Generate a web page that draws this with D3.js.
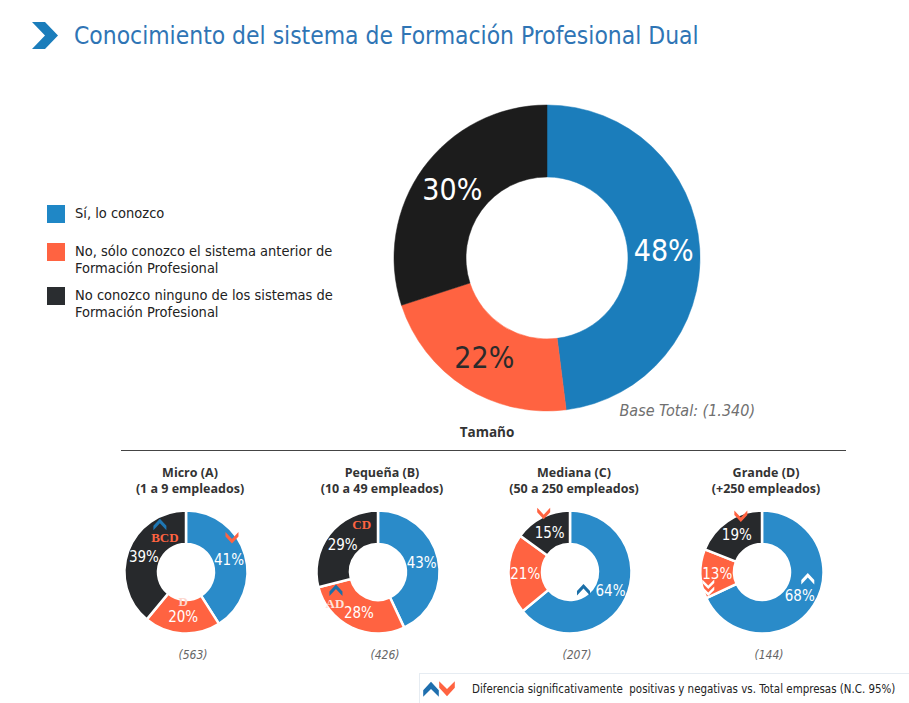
<!DOCTYPE html>
<html><head><meta charset="utf-8">
<script src="https://cdn.jsdelivr.net/npm/d3@7/dist/d3.min.js"></script>
<style>
html,body{margin:0;padding:0;background:#fff;}
svg{display:block;}
</style></head>
<body>
<svg id="chart" width="909" height="703"></svg>
<script>
// ---------- DATA ----------
const title = "Conocimiento del sistema de Formación Profesional Dual";
const segmentNames = [
  ["Sí, lo conozco"],
  ["No, sólo conozco el sistema anterior de", "Formación Profesional"],
  ["No conozco ninguno de los sistemas de", "Formación Profesional"]
];
const totalValues = [48, 22, 30];
const totalBase = "Base Total: (1.340)";
const groupTitle = "Tamaño";
const groupNames = ["Micro (A)", "Pequeña (B)", "Mediana (C)", "Grande (D)"];
const groupRanges = ["(1 a 9 empleados)", "(10 a 49 empleados)", "(50 a 250 empleados)", "(+250 empleados)"];
const siValues = [41, 43, 64, 68];
const anteriorValues = [20, 28, 21, 13];
const ningunoValues = [39, 29, 15, 19];
const groupBases = ["(563)", "(426)", "(207)", "(144)"];
// significance marks: group, segment, kind, letters
const sigMarks = [
  {g:0, seg:2, kind:"up"},
  {g:0, seg:2, kind:"text", text:"BCD"},
  {g:0, seg:0, kind:"down"},
  {g:0, seg:1, kind:"text", text:"D"},
  {g:1, seg:2, kind:"text", text:"CD"},
  {g:1, seg:1, kind:"up"},
  {g:1, seg:1, kind:"text", text:"AD"},
  {g:2, seg:2, kind:"down"},
  {g:2, seg:0, kind:"up"},
  {g:3, seg:2, kind:"down"},
  {g:3, seg:1, kind:"double"},
  {g:3, seg:0, kind:"up"}
];
const footnote = "Diferencia significativamente  positivas y negativas vs. Total empresas (N.C. 95%)";

// ---------- LAYOUT / STYLE ----------
const markOffsets = [
  {dx:16, dy:-34, fill:"#1f77b4"},
  {dx:21, dy:-20, fill:"#ff6341"},
  {dx:3, dy:-20, fill:"#ff6341"},
  {dx:0, dy:-15, fill:"#fcd6cc"},
  {dx:19, dy:-20, fill:"#ff6341"},
  {dx:-23, dy:-24, fill:"#1b6fa8"},
  {dx:-24, dy:-9, fill:"#fde3dc"},
  {dx:-6, dy:-17, fill:"#ff6341"},
  {dx:-27, dy:-3, fill:"#1b6fa8"},
  {dx:4, dy:-17, fill:"#ff6341"},
  {dx:-9, dy:14, fill:"#ffffff"},
  {dx:8, dy:-19, fill:"#ffffff"}
];
const mainColors = ["#1b7dbb", "#ff6341", "#1c1c1c"];
const smallColors = ["#2a8bc9", "#ff6341", "#27292c"];
const legendColors = ["#1f87c6", "#ff6341", "#2a2d30"];
const mainLabelColors = ["#ffffff", "#2b2b2b", "#ffffff"];
const FONT = "'DejaVu Sans Condensed','DejaVu Sans',sans-serif";
const HFONT = "'Open Sans',sans-serif";

const svg = d3.select("#chart");

// Title
svg.append("path")
  .attr("d", "M32,22 L45,22 L58,35.5 L45,49 L32,49 L45,35.5 Z")
  .attr("fill", "#1b7dbb");
svg.append("text").attr("x", 74).attr("y", 44)
  .attr("font-family", FONT).attr("font-size", 24.4).attr("fill", "#2f75b5")
  .text(title);

// Legend
const legendY = [205, 243, 287];
segmentNames.forEach((lines, i) => {
  svg.append("rect").attr("x", 47).attr("y", legendY[i]).attr("width", 18).attr("height", 18)
    .attr("fill", legendColors[i]);
  lines.forEach((l, j) => {
    svg.append("text").attr("x", 75).attr("y", legendY[i] + 13 + j * 17)
      .attr("font-family", FONT).attr("font-size", 14.5).attr("fill", "#222")
      .text(l);
  });
});

// Main donut
const pie = d3.pie().sort(null).value(d => d);
const mainC = {x: 547, y: 258};
const mainArc = d3.arc().innerRadius(81).outerRadius(153);
const mainG = svg.append("g").attr("transform", `translate(${mainC.x},${mainC.y})`);
const mainArcs = pie(totalValues);
mainG.selectAll("path").data(mainArcs).join("path")
  .attr("d", mainArc).attr("fill", (d, i) => mainColors[i])
  .attr("stroke", (d, i) => mainColors[i]).attr("stroke-width", 0.5);
mainG.selectAll("text").data(mainArcs).join("text")
  .attr("transform", d => `translate(${mainArc.centroid(d)})`)
  .attr("text-anchor", "middle").attr("dy", "0.36em")
  .attr("font-family", FONT).attr("font-size", 30)
  .attr("fill", (d, i) => mainLabelColors[i])
  .text(d => d.data + "%");

svg.append("text").attr("x", 755).attr("y", 416).attr("text-anchor", "end")
  .attr("font-family", FONT).attr("font-size", 16).attr("font-style", "italic")
  .attr("fill", "#707070").text(totalBase);

// Group title
svg.append("text").attr("x", 487).attr("y", 437).attr("text-anchor", "middle")
  .attr("font-family", HFONT).attr("font-size", 13.5).attr("font-weight", 700).attr("fill", "#333")
  .text(groupTitle);
svg.append("line").attr("x1", 121).attr("x2", 846).attr("y1", 450.5).attr("y2", 450.5)
  .attr("stroke", "#444").attr("stroke-width", 1);

// Small donuts
const xCenters = d3.scalePoint().domain(groupNames).range([186, 762]);
const smallArc = d3.arc().innerRadius(28).outerRadius(61.5);
const cy = 572;

function chevron(kind) {
  if (kind === "up") return "M-6.5,3 L0,-4 L6.5,3 L6.5,7.5 L0,0.5 L-6.5,7.5 Z";
  if (kind === "down") return "M-6.5,-3 L0,4 L6.5,-3 L6.5,-7.5 L0,-0.5 L-6.5,-7.5 Z";
  return "M-6,-8 L0,-2 L6,-8 L6,-4.5 L0,1.5 L-6,-4.5 Z M-6,-1 L0,5 L6,-1 L6,2.5 L0,8.5 L-6,2.5 Z";
}

groupNames.forEach((name, gi) => {
  const cx = xCenters(name);
  const vals = [siValues[gi], anteriorValues[gi], ningunoValues[gi]];
  const arcs = pie(vals);
  const g = svg.append("g").attr("transform", `translate(${cx},${cy})`);
  g.selectAll("path").data(arcs).join("path")
    .attr("d", smallArc).attr("fill", (d, i) => smallColors[i])
    .attr("stroke", "#fff").attr("stroke-width", 2.5);
  g.selectAll("text.lbl").data(arcs).join("text").attr("class", "lbl")
    .attr("transform", d => `translate(${smallArc.centroid(d)})`)
    .attr("text-anchor", "middle").attr("dy", "0.36em")
    .attr("font-family", FONT).attr("font-size", 15).attr("fill", "#fff")
    .text(d => d.data + "%");

  svg.append("text").attr("x", cx + 4).attr("y", 477).attr("text-anchor", "middle")
    .attr("font-family", HFONT).attr("font-size", 12.5).attr("font-weight", 700).attr("fill", "#333")
    .text(name);
  svg.append("text").attr("x", cx + 4).attr("y", 493).attr("text-anchor", "middle")
    .attr("font-family", HFONT).attr("font-size", 12.5).attr("font-weight", 700).attr("fill", "#333")
    .text(groupRanges[gi]);
  svg.append("text").attr("x", cx + 7).attr("y", 659).attr("text-anchor", "middle")
    .attr("font-family", FONT).attr("font-size", 12).attr("font-style", "italic").attr("fill", "#666")
    .text(groupBases[gi]);

  sigMarks.forEach((m, mi) => {
    if (m.g !== gi) return;
    const c = smallArc.centroid(arcs[m.seg]);
    const o = markOffsets[mi];
    const x = c[0] + o.dx, y = c[1] + o.dy;
    if (m.kind === "text") {
      g.append("text").attr("x", x).attr("y", y).attr("dy", "0.36em").attr("text-anchor", "middle")
        .attr("font-family", "'Liberation Serif',serif").attr("font-weight", 700).attr("font-size", 13)
        .attr("fill", o.fill).text(m.text);
    } else {
      g.append("path").attr("transform", `translate(${x},${y})`).attr("d", chevron(m.kind))
        .attr("fill", o.fill);
    }
  });
});

// Footnote
svg.append("rect").attr("x", 419.5).attr("y", 673.5).attr("width", 495).attr("height", 32)
  .attr("fill", "#fff").attr("stroke", "#e6ecf2").attr("stroke-width", 1);
svg.append("path").attr("transform", "translate(431,689) scale(1.2)")
  .attr("d", "M-6.5,1 L0,-6 L6.5,1 L6.5,6.5 L0,0 L-6.5,6.5 Z").attr("fill", "#1f6fae");
svg.append("path").attr("transform", "translate(447,689) scale(1.2)")
  .attr("d", "M-6.5,-1 L0,6 L6.5,-1 L6.5,-6.5 L0,0 L-6.5,-6.5 Z").attr("fill", "#ff6341");
svg.append("text").attr("x", 472).attr("y", 693)
  .attr("font-family", FONT).attr("font-size", 11.45).attr("fill", "#222")
  .style("white-space", "pre")
  .text(footnote);
</script>
</body></html>
